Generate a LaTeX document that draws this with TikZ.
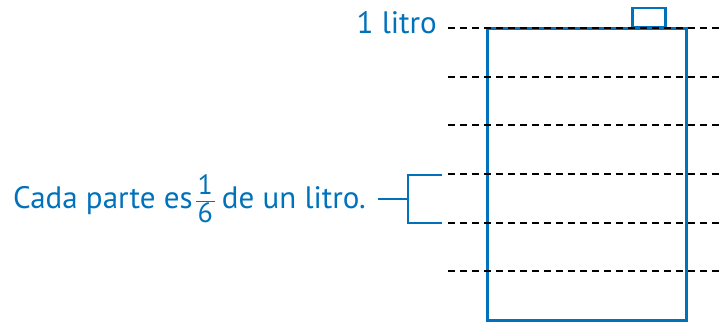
\documentclass[tikz,border=0pt]{standalone}
\usepackage{fontspec}
\setmainfont{PT Sans}
\definecolor{azul}{RGB}{0,114,188}
\newcommand{\sixth}{{\fontsize{28}{28}\selectfont\setlength{\arrayrulewidth}{1pt}%
  \renewcommand{\arraystretch}{0.85}%
  \begin{tabular}[c]{@{\hspace{2pt}}c@{\hspace{2pt}}}1\\\hline 6\end{tabular}}}

\begin{document}
\begin{tikzpicture}[
    x=1pt, y=-1pt,
    jar/.style={draw=azul, line width=3pt, inner sep=0pt},
    mark line/.style={black, line width=1.8pt, dash pattern=on 7pt off 5pt},
    bracket/.style={azul, line width=1.6pt},
    label text/.style={text=azul, inner sep=0pt, font=\fontsize{31}{33}\selectfont}
  ]
  \useasboundingbox (0,0) rectangle (721,322);

  \node[jar, minimum width=199pt, minimum height=292pt] (jarra) at (586.5,174) {};
  \node[jar, line width=2.5pt, anchor=south, minimum width=33pt, minimum height=19pt] (tapa) at (649,28) {};

  % marcas de sextos
  \foreach \i in {0,...,5} {
    \coordinate (m\i l) at (448,28+48.67*\i);
    \coordinate (m\i r) at (721,28+48.67*\i);
    \draw[mark line] (m\i l) -- (m\i r);
  }

  \node[label text, anchor=base east] (litro) at (437,33) {1 litro};
  \node[label text, anchor=base east] (parte) at (366,208)
    {Cada parte es\hspace{3pt}\sixth\hspace{7pt}de un litro.};

  \coordinate (bt) at (442,175);
  \coordinate (bb) at (442,223);
  \coordinate (bj) at (408,199);
  \coordinate (stem) at (378,199);
  \draw[bracket] (bt) -| (bj) |- (bb);
  \draw[bracket] (stem) -- (bj);
\end{tikzpicture}
\end{document}
